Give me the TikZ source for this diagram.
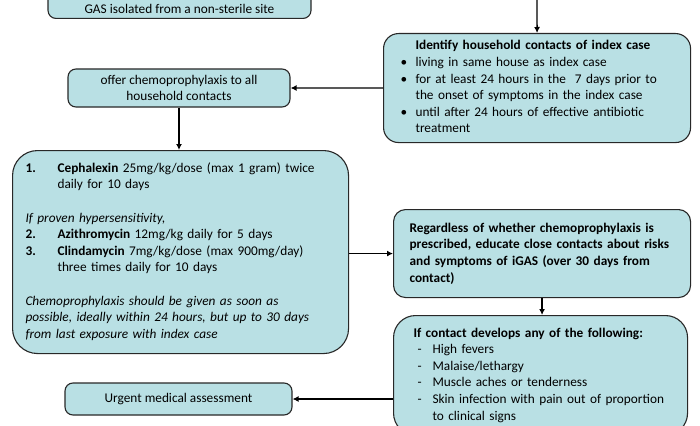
\documentclass[tikz,border=0pt]{standalone}
\usepackage{fontspec}
\setmainfont{Carlito}
\usetikzlibrary{arrows.meta}
\definecolor{boxfill}{RGB}{185,224,228}
\definecolor{boxline}{RGB}{40,40,40}
\tikzset{
	box/.style={draw=boxline, fill=boxfill, line width=1.1pt, font=\fontsize{13.3}{16.6}\selectfont},
	arr/.style={line width=1.4pt, -{Latex[length=6pt,width=6pt]}}
}

\begin{document}
\begin{tikzpicture}[x=1pt,y=-1pt]
			%%%%% START %%%%%
			\useasboundingbox (0,0) rectangle (700,425);
			
			\node[box, rounded corners=8pt, anchor=south, minimum width=263pt, text height=30pt, inner ysep=5pt] (gas) at (179.5,19) {GAS isolated from a non-sterile site};
			
			\node[box, rounded corners=15pt, anchor=north west, minimum height=109pt, text width=273pt, inner xsep=17pt, align=left] (ident) at (383,33) {%
				\begin{tabular}{@{}p{15pt}@{}l@{}}
					& \textbf{Identify household contacts of index case}\\
					\textbullet & living in same house as index case\\
					\textbullet & for at least 24 hours in the \ 7 days prior to\\
					& the onset of symptoms in the index case\\
					\textbullet & until after 24 hours of effective antibiotic\\
					& treatment
				\end{tabular}};
			
			\node[box, rounded corners=8pt, minimum width=222pt, minimum height=38pt, align=center] (offer) at (179,88) {offer chemoprophylaxis to all\\household contacts};
			
			\node[box, rounded corners=25pt, anchor=north west, minimum height=203pt, text width=310pt, inner xsep=13pt, align=left] (chemo) at (12,150) {%
				\begin{tabular}{@{}p{32pt}@{}l@{}}
					\textbf{1.} & \textbf{Cephalexin} 25mg/kg/dose (max 1 gram) twice\\
					& daily for 10 days\\
					\multicolumn{2}{@{}l@{}}{}\\
					\multicolumn{2}{@{}l@{}}{\textit{If proven hypersensitivity,}}\\
					\textbf{2.} & \textbf{Azithromycin} 12mg/kg daily for 5 days\\
					\textbf{3.} & \textbf{Clindamycin} 7mg/kg/dose (max 900mg/day)\\
					& three times daily for 10 days\\
					\multicolumn{2}{@{}l@{}}{}\\
					\multicolumn{2}{@{}l@{}}{\textit{Chemoprophylaxis should be given as soon as}}\\
					\multicolumn{2}{@{}l@{}}{\textit{possible, ideally within 24 hours, but up to 30 days}}\\
					\multicolumn{2}{@{}l@{}}{\textit{from last exposure with index case}}
				\end{tabular}};
			
			\node[box, rounded corners=12pt, anchor=north west, minimum height=88pt, text width=265pt, inner xsep=16pt, align=left] (regard) at (393,209) {\textbf{Regardless of whether chemoprophylaxis is}\\\textbf{prescribed, educate close contacts about risks}\\\textbf{and symptoms of iGAS (over 30 days from}\\\textbf{contact)}};
			
			\node[box, rounded corners=22pt, anchor=north west, text width=254pt, inner xsep=20pt, inner ysep=10pt, align=left] (ifc) at (393,315) {%
				\begin{tabular}{@{}p{19pt}@{}l@{}}
					\multicolumn{2}{@{}l@{}}{\textbf{If contact develops any of the following:}}\\
					\hspace{4pt}- & High fevers\\
					\hspace{4pt}- & Malaise/lethargy\\
					\hspace{4pt}- & Muscle aches or tenderness\\
					\hspace{4pt}- & Skin infection with pain out of proportion\\
					& to clinical signs
				\end{tabular}};
			
			\node[box, rounded corners=8pt, minimum width=227pt, minimum height=32pt] (urgent) at (178.5,399) {Urgent medical assessment};
			
			\coordinate (top) at (537,-5);
			\draw[arr] (top) -- (ident.north);
			\draw[arr] (ident.west) -- (offer.east);
			\draw[arr] (offer.south) -- (offer.south |- chemo.north);
			\draw[arr] (chemo.east |- regard.west) -- (regard.west);
			\draw[arr] (regard.south) -- (regard.south |- ifc.north);
			\draw[arr] (urgent.east -| ifc.west) -- (urgent.east);
			
			%%%%% END %%%%%
\end{tikzpicture}
\end{document}
